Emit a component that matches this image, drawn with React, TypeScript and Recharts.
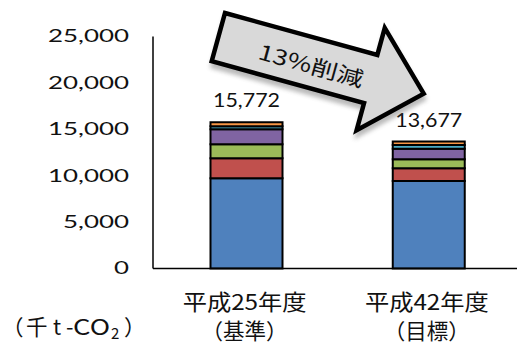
import React from "react";
import { BarChart, Bar, XAxis, YAxis, LabelList } from "recharts";

const categories = ["平成25年度\n（基準）", "平成42年度\n（目標）"];
const seriesKeys = ["s1", "s2", "s3", "s4", "s5", "s6"];
const seriesColors = ["#4f81bd", "#c0504d", "#9bbb59", "#8064a2", "#4bacc6", "#f79646"];
const s1 = [9720, 9430];
const s2 = [2155, 1370];
const s3 = [1510, 970];
const s4 = [1615, 1140];
const s5 = [330, 400];
const s6 = [442, 367];
const totals = [15772, 13677];
const yTicks = [0, 5000, 10000, 15000, 20000, 25000];
const arrowText = "13%削減";
const unitParts = ["（", "千", "t", "-", "CO", "2", "）"];

const seriesValues = [s1, s2, s3, s4, s5, s6];
const data = categories.map((c, i) => {
  const row: any = { name: c, total: totals[i] };
  seriesKeys.forEach((k, j) => (row[k] = seriesValues[j][i]));
  return row;
});

const FONT = "'Noto Sans CJK JP', 'Noto Sans', sans-serif";
const NUMFONT = "Lato, 'Noto Sans CJK JP', sans-serif";
const fmt = (v: number) => v.toLocaleString("en-US");

const numLen = (s: string) => {
  let n = 0;
  for (const ch of s) n += ch === "," ? 6 : 15;
  return n;
};

const YTick = (props: any) => {
  const { x, y, payload } = props;
  const s = fmt(payload.value);
  return (
    <text
      x={x}
      y={y}
      dy="0.36em"
      textAnchor="end"
      fontFamily={NUMFONT}
      fontWeight={400}
      fontSize={16.5}
      fill="#111"
      textLength={numLen(s)}
      lengthAdjust="spacingAndGlyphs"
    >
      {s}
    </text>
  );
};

const XTick = (props: any) => {
  const { x, y, payload } = props;
  const [l1, l2] = String(payload.value).split("\n");
  return (
    <g>
      <text
        x={x - 2}
        y={y + 41.5}
        textAnchor="middle"
        fontFamily={FONT}
        fontSize={21.5}
        fill="#111"
        textLength={124}
        lengthAdjust="spacingAndGlyphs"
      >
        {l1}
      </text>
      <text x={x - 2} y={y + 70} textAnchor="middle" fontFamily={FONT} fontSize={21.5} fill="#111">
        {l2}
      </text>
    </g>
  );
};

const TotalLabel = (props: any) => {
  const vb = props.viewBox || {};
  const x = props.x ?? vb.x;
  const y = props.y ?? vb.y;
  const width = props.width ?? vb.width;
  const s = fmt(Number(props.value));
  return (
    <text
      x={x + width / 2}
      y={y - 15}
      textAnchor="middle"
      fontFamily={NUMFONT}
      fontWeight={400}
      fontSize={18.5}
      fill="#111"
      textLength={67}
      lengthAdjust="spacingAndGlyphs"
    >
      {s}
    </text>
  );
};

const arrowPts = "0,0 158,0 158,-28 213,25 158,78 158,50 0,50";

export default function App() {
  return (
    <div style={{ position: "absolute", left: 0, top: 0, width: 517, height: 343, overflow: "hidden", background: "#fff" }}>
      <BarChart
        width={520}
        height={343}
        data={data}
        margin={{ top: 36.5, right: 0, left: 0, bottom: 0 }}
      >
        <XAxis
          dataKey="name"
          height={74.5}
          tickLine={false}
          tickSize={0}
          tickMargin={0}
          axisLine={{ stroke: "#000", strokeWidth: 1.5 }}
          tick={<XTick />}
          padding={{ left: 2.5, right: 0 }}
          interval={0}
        />
        <YAxis
          width={153}
          domain={[0, 25000]}
          ticks={yTicks}
          tickLine={false}
          tickSize={0}
          tickMargin={24}
          axisLine={{ stroke: "#000", strokeWidth: 1.5 }}
          tick={<YTick />}
          interval={0}
        />
        {seriesKeys.map((k, j) => (
          <Bar
            key={k}
            dataKey={k}
            stackId="a"
            fill={seriesColors[j]}
            stroke="#000"
            strokeWidth={2}
            barSize={72}
            isAnimationActive={false}
          >
            {j === seriesKeys.length - 1 ? <LabelList dataKey="total" content={<TotalLabel />} /> : null}
          </Bar>
        ))}
      </BarChart>
      <svg
        width={517}
        height={343}
        style={{ position: "absolute", left: 0, top: 0, pointerEvents: "none" }}
      >
        <defs>
          <filter id="blur" x="-20%" y="-20%" width="140%" height="140%">
            <feGaussianBlur stdDeviation="2" />
          </filter>
        </defs>
        <g transform="translate(225,13) rotate(15.4)">
          <polygon points={arrowPts} transform="translate(2,5)" fill="#666" opacity={0.45} filter="url(#blur)" stroke="#666" strokeWidth={4} />
          <polygon points={arrowPts} fill="#d9d9d9" stroke="#000" strokeWidth={4.5} strokeLinejoin="miter" />
          <text
            x={97}
            y={28}
            dy="0.36em"
            textAnchor="middle"
            fontFamily={FONT}
            fontSize={21}
            fill="#111"
            textLength={108}
            lengthAdjust="spacingAndGlyphs"
          >
            {arrowText}
          </text>
        </g>
        <text y={335} fontFamily={FONT} fontSize={21.5} fill="#111">
          <tspan x={2}>{unitParts[0]}</tspan>
          <tspan x={26}>{unitParts[1]}</tspan>
          <tspan x={53}>{unitParts[2]}</tspan>
          <tspan x={66}>{unitParts[3]}</tspan>
          <tspan x={73} textLength={37} lengthAdjust="spacingAndGlyphs">{unitParts[4]}</tspan>
          <tspan x={111} y={339} fontSize={15}>{unitParts[5]}</tspan>
          <tspan x={124} y={335}>{unitParts[6]}</tspan>
        </text>
      </svg>
    </div>
  );
}
